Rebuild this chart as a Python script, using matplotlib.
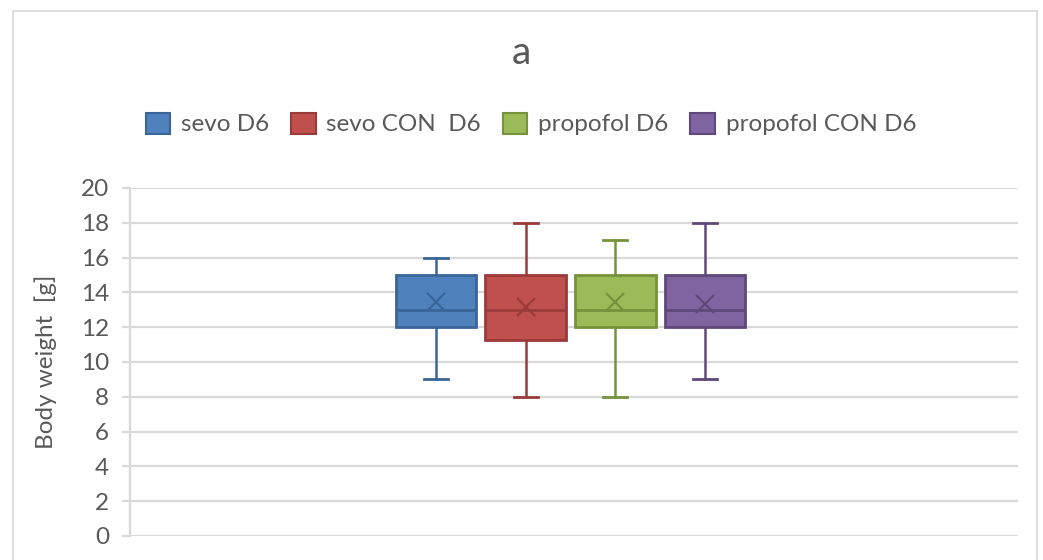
import matplotlib
matplotlib.use("Agg")
import matplotlib.pyplot as plt
from matplotlib.patches import Patch, Rectangle

plt.rcParams['font.family'] = ['Lato', 'DejaVu Sans']

# five-number summaries per group, plus the mean (x marker)
groups = ["sevo D6", "sevo CON  D6", "propofol D6", "propofol CON D6"]
whislo = [9, 8, 8, 9]
q1 = [12, 11.25, 12, 12]
med = [13, 13, 13, 13]
q3 = [15, 15, 15, 15]
whishi = [16, 18, 17, 18]
means = [13.45, 13.15, 13.45, 13.35]

fills = ["#4F81BD", "#C0504D", "#9BBB59", "#8064A2"]
edges = ["#3A6599", "#9A3B39", "#76923C", "#5F497A"]
text_c = "#595959"
grid_c = "#D9D9D9"

fig = plt.figure(figsize=(10.43, 5.6), dpi=100)
ax = fig.add_axes([130 / 1043, 24 / 560, 888 / 1043, 348 / 560])

# outer chart border
fig.patches.append(Rectangle((13 / 1043, -0.05), 1024 / 1043, 1.05 - 11 / 560,
                             transform=fig.transFigure, fill=False,
                             edgecolor=grid_c, lw=1.2))

step = 0.101
positions = [0.496 + (i - 1.5) * step for i in range(len(groups))]

for i, name in enumerate(groups):
    stats = [dict(label=name, whislo=whislo[i], q1=q1[i], med=med[i],
                  q3=q3[i], whishi=whishi[i], mean=means[i], fliers=[])]
    ax.bxp(stats, positions=[positions[i]], widths=0.091, capwidths=0.027,
           patch_artist=True, showmeans=True, manage_ticks=False,
           boxprops=dict(facecolor=fills[i], edgecolor=edges[i], lw=2),
           medianprops=dict(color=edges[i], lw=2),
           whiskerprops=dict(color=edges[i], lw=1.8),
           capprops=dict(color=edges[i], lw=2),
           meanprops=dict(marker='x', markeredgecolor=edges[i],
                          markersize=13, markeredgewidth=1.6))

ax.set_xlim(0, 1)
ax.set_ylim(0, 20)
ax.set_yticks(range(0, 21, 2))
ax.set_xticks([])
ax.yaxis.grid(True, color=grid_c, lw=1.6)
ax.set_axisbelow(True)
for s in ["top", "right", "bottom"]:
    ax.spines[s].set_visible(False)
ax.spines["left"].set_color(grid_c)
ax.spines["left"].set_linewidth(1.6)
ax.tick_params(axis='y', length=6, width=1.6, color=grid_c,
               labelcolor=text_c, labelsize=17.5, pad=9)

ax.set_ylabel("Body weight  [g]", fontsize=17.5, color=text_c)
ax.yaxis.set_label_coords(-0.082, 0.5)

fig.text(0.5, 1 - 53 / 560, "a", ha='center', va='center',
         fontsize=28, color=text_c)

handles = [Patch(facecolor=fills[i], edgecolor=edges[i], lw=1.5, label=groups[i])
           for i in range(len(groups))]
fig.legend(handles=handles, loc='center', bbox_to_anchor=(531 / 1043, 1 - 124 / 560),
           ncol=4, frameon=False, fontsize=17.5, labelcolor=text_c,
           handlelength=1.0, handleheight=0.95, handletextpad=0.45,
           columnspacing=0.9)

fig.savefig("out.png", dpi=100)
